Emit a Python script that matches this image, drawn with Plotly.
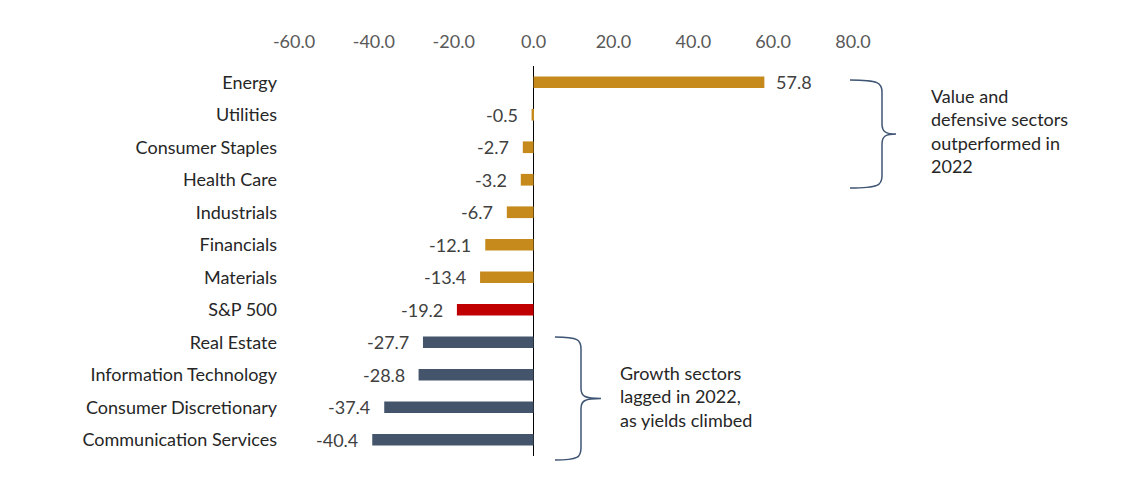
import plotly.graph_objects as go

categories = ["Energy", "Utilities", "Consumer Staples", "Health Care", "Industrials",
              "Financials", "Materials", "S&P 500", "Real Estate", "Information Technology",
              "Consumer Discretionary", "Communication Services"]
returns_2022 = [57.8, -0.5, -2.7, -3.2, -6.7, -12.1, -13.4, -19.2, -27.7, -28.8, -37.4, -40.4]
groups = ["value"] * 7 + ["index"] + ["growth"] * 4
tick_values = [-60, -40, -20, 0, 20, 40, 60, 80]
tick_labels = ["-60.0", "-40.0", "-20.0", "0.0", "20.0", "40.0", "60.0", "80.0"]

group_colors = {"value": "#C68A1C", "index": "#C00000", "growth": "#44546A"}
bar_colors = [group_colors[g] for g in groups]

# page has an 8px body margin; plot area in screenshot pixels: x 294..853, y 66..456
PAGE_OFF = 8
PL, PR, PT, PB = 294, 853, 66, 456
PW, PH = PR - PL, PB - PT
FIG_W, FIG_H = 1132 - 2 * PAGE_OFF, 482 - 2 * PAGE_OFF
ML, MT = PL - PAGE_OFF, PT - PAGE_OFF
MR, MB = FIG_W - ML - PW, FIG_H - MT - PH

def px(x):
    return (x - PL) / PW

def py(y):
    return (PB - y) / PH

FONT = "Lato"
FS = 18

fig = go.Figure()
fig.add_trace(go.Bar(
    x=returns_2022, y=categories, orientation="h",
    marker=dict(color=bar_colors, line=dict(width=0)),
    width=0.36, hoverinfo="x+y",
))

for c, v in zip(categories, returns_2022):
    fig.add_annotation(x=v, y=c, xref="x", yref="y", text=f"{v:.1f}", showarrow=False,
                       xanchor="left" if v >= 0 else "right", xshift=10 if v >= 0 else -12,
                       font=dict(family=FONT, size=FS, color="#404040"))

def brace(x0, y0, y1, depth, tip):
    ym = (y0 + y1) / 2
    xa = x0 + depth
    pts = [
        f"M {px(x0)},{py(y0)}",
        f"C {px(x0 + depth*0.9)},{py(y0)} {px(xa)},{py(y0 + 3)} {px(xa)},{py(y0 + 12)}",
        f"L {px(xa)},{py(ym - 10)}",
        f"C {px(xa)},{py(ym - 2)} {px(xa + 4)},{py(ym)} {px(xa + tip)},{py(ym)}",
        f"C {px(xa + 4)},{py(ym)} {px(xa)},{py(ym + 2)} {px(xa)},{py(ym + 10)}",
        f"L {px(xa)},{py(y1 - 12)}",
        f"C {px(xa)},{py(y1 - 3)} {px(x0 + depth*0.9)},{py(y1)} {px(x0)},{py(y1)}",
    ]
    return " ".join(pts)

fig.add_shape(type="path", xref="paper", yref="paper", path=brace(850, 80, 188, 32, 14),
              line=dict(color="#3E5473", width=1.5))
fig.add_shape(type="path", xref="paper", yref="paper", path=brace(555, 337, 460, 26, 20),
              line=dict(color="#3E5473", width=1.5))

fig.add_annotation(xref="paper", yref="paper", x=px(929), y=py(131), xanchor="left", yanchor="middle",
                   align="left", showarrow=False,
                   text="Value and<br>defensive sectors<br>outperformed in<br>2022",
                   font=dict(family=FONT, size=FS, color="#262626"))
fig.add_annotation(xref="paper", yref="paper", x=px(618), y=py(396), xanchor="left", yanchor="middle",
                   align="left", showarrow=False,
                   text="Growth sectors<br>lagged in 2022,<br>as yields climbed",
                   font=dict(family=FONT, size=FS, color="#262626"))

fig.update_layout(
    width=FIG_W, height=FIG_H,
    margin=dict(l=ML, r=MR, t=MT, b=MB),
    paper_bgcolor="white", plot_bgcolor="white",
    showlegend=False,
    font=dict(family=FONT, size=FS, color="#262626"),
    xaxis=dict(range=[-60, 80], side="top", tickvals=tick_values, ticktext=tick_labels,
               showgrid=False, showline=False, ticks="", zeroline=True,
               zerolinecolor="#000000", zerolinewidth=1, ticklabelstandoff=13,
               tickfont=dict(family=FONT, size=FS, color="#595959")),
    yaxis=dict(autorange="reversed", showgrid=False, showline=False, ticks="",
               ticklabelstandoff=16,
               tickfont=dict(family=FONT, size=FS, color="#262626")),
)

fig.write_html("out.html")
